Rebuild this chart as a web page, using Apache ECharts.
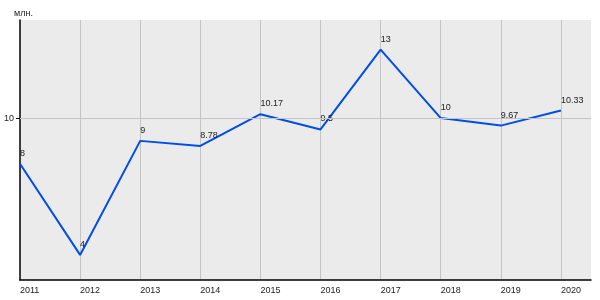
<!DOCTYPE html>
<html><head><meta charset="utf-8">
<script src="https://cdn.jsdelivr.net/npm/echarts@6/dist/echarts.min.js"></script>
<style>html,body{margin:0;padding:0;background:#fff}#c{width:600px;height:300px}</style>
</head><body><div id="c"></div>
<script>
const years = [2011, 2012, 2013, 2014, 2015, 2016, 2017, 2018, 2019, 2020];
const values = [8, 4, 9, 8.78, 10.17, 9.5, 13, 10, 9.67, 10.33];
const yTicks = [10];
const yName = 'млн.';

const chart = echarts.init(document.getElementById('c'), null, {renderer: 'canvas'});
chart.setOption({
  animation: false,
  textStyle: {fontFamily: 'Liberation Sans, Arial, sans-serif'},
  grid: {left: 20, right: 9, top: 20, bottom: 20, show: true, backgroundColor: '#ebebeb', borderWidth: 0},
  xAxis: {
    type: 'value', min: 2011, max: 2020.5, interval: 1,
    axisLine: {show: true, lineStyle: {color: '#000', width: 1.5}},
    axisTick: {show: false},
    axisLabel: {color: '#222', fontSize: 9, align: 'left', margin: 6,
      formatter: v => (Number.isInteger(v) ? String(v) : '')},
    splitLine: {show: true, showMinLine: false, showMaxLine: false, lineStyle: {color: '#c4c4c4', width: 1}}
  },
  yAxis: {
    type: 'value', min: 2.9, max: 14.3,
    name: yName, nameLocation: 'end', nameGap: 2,
    nameTextStyle: {color: '#222', fontSize: 9, align: 'left', padding: [0, 0, 0, -6]},
    axisLine: {show: true, onZero: false, lineStyle: {color: '#000', width: 1.5}},
    axisTick: {show: true, customValues: yTicks, length: 4, lineStyle: {color: '#000'}},
    axisLabel: {customValues: yTicks, color: '#222', fontSize: 9, margin: 6},
    splitLine: {show: false}
  },
  series: [{
    type: 'line',
    data: years.map((y, i) => [y, values[i]]),
    symbol: 'circle', symbolSize: 0, showSymbol: true,
    lineStyle: {color: '#004de8', width: 2},
    itemStyle: {color: '#004de8'},
    label: {show: true, position: 'top', align: 'left', distance: 6, color: '#222', fontSize: 9},
    markLine: {
      silent: true, symbol: 'none', label: {show: false},
      lineStyle: {color: '#c4c4c4', width: 1, type: 'solid'},
      data: yTicks.map(v => ({yAxis: v}))
    },
    z: 3
  }]
});
</script></body></html>
